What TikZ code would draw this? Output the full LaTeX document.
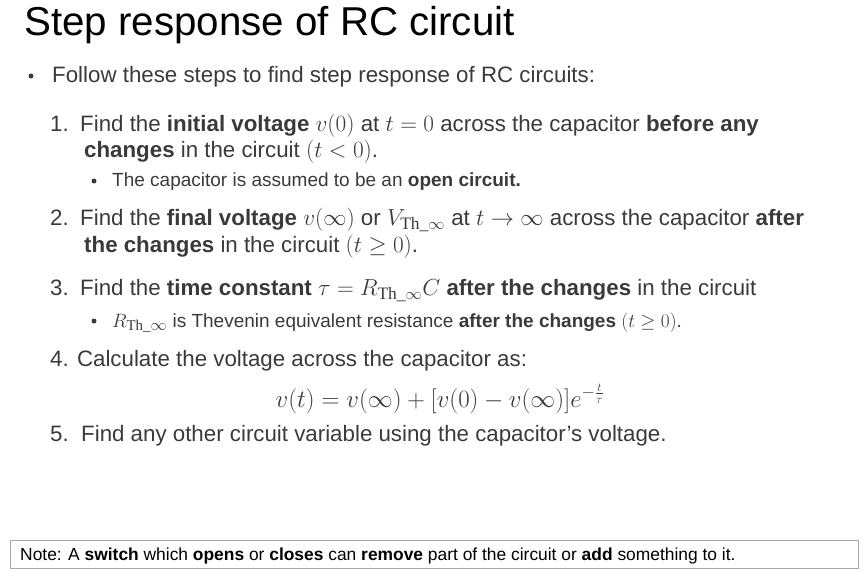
\documentclass[tikz,border=0pt]{standalone}
\usepackage{amsmath}
\usepackage{graphicx}
\usepackage[no-math]{fontspec}
\setmainfont{Liberation Sans}
\newfontfamily\serifth{Liberation Serif}
\definecolor{txt}{HTML}{3A3A3A}
\newcommand{\Th}{\text{\serifth Th\_}\infty}
\newcommand{\mm}[1]{\scalebox{1.12}{$#1$}}
\begin{document}
\begin{tikzpicture}[x=1pt,y=1pt,
  every node/.style={anchor=base west,inner sep=0pt,text=txt},
  main/.style={font=\fontsize{22.3}{26}\selectfont},
  sub/.style={font=\fontsize{19}{22}\selectfont},
  dot/.style={circle,fill=txt,inner sep=0pt,minimum size=5pt,anchor=center}]
\useasboundingbox (0,0) rectangle (868,-571);
\node[font=\fontsize{40.3}{44}\selectfont,text=black] (title) at (24,-35) {Step response of RC circuit};
\node[dot] (d0) at (31,-76) {};
\node[main] (l0) at (52,-82) {Follow these steps to find step response of RC circuits:};
\node[main] (n1) at (50,-131) {1.};
\node[main] (l1) at (80,-131) {Find the \textbf{initial voltage} \mm{v(0)} at \mm{t=0} across the capacitor \textbf{before any}};
\node[main] (l1b) at (84,-157) {\textbf{changes} in the circuit \mm{(t<0)}.};
\node[dot] (d1) at (94,-181) {};
\node[sub] (s1) at (112,-186) {The capacitor is assumed to be an \textbf{open circuit.}};
\node[main] (n2) at (50,-225) {2.};
\node[main] (l2) at (80,-225) {Find the \textbf{final voltage} \mm{v(\infty)} or \mm{V_{\Th}} at \mm{t\to\infty} across the capacitor \textbf{after}};
\node[main] (l2b) at (84,-252) {\textbf{the changes} in the circuit \mm{(t\geq 0)}.};
\node[main] (n3) at (50,-295) {3.};
\node[main] (l3) at (80,-295) {Find the \textbf{time constant} \mm{\tau=R_{\Th}C} \textbf{after the changes} in the circuit};
\node[dot] (d3) at (94,-321) {};
\node[sub] (s3) at (112,-327) {\mm{R_{\Th}} is Thevenin equivalent resistance \textbf{after the changes} \mm{(t\geq 0)}.};
\node[main] (l4) at (50,-366) {4. Calculate the voltage across the capacitor as:};
\node[font=\fontsize{26}{30}\selectfont,anchor=base] (eq) at (440,-407) {$v(t)=v(\infty)+[v(0)-v(\infty)]e^{-\frac{t}{\tau}}$};
\node[main] (l5) at (50,-441) {5.\ \ Find any other circuit variable using the capacitor’s voltage.};
\node[draw=gray!70,line width=1pt,anchor=north west,minimum width=848,minimum height=28,inner sep=0pt] (box) at (10,-540) {};
\node[font=\fontsize{17.4}{20}\selectfont,text=black] (note) at (20,-560) {Note: A \textbf{switch} which \textbf{opens} or \textbf{closes} can \textbf{remove} part of the circuit or \textbf{add} something to it.};
\end{tikzpicture}
\end{document}
